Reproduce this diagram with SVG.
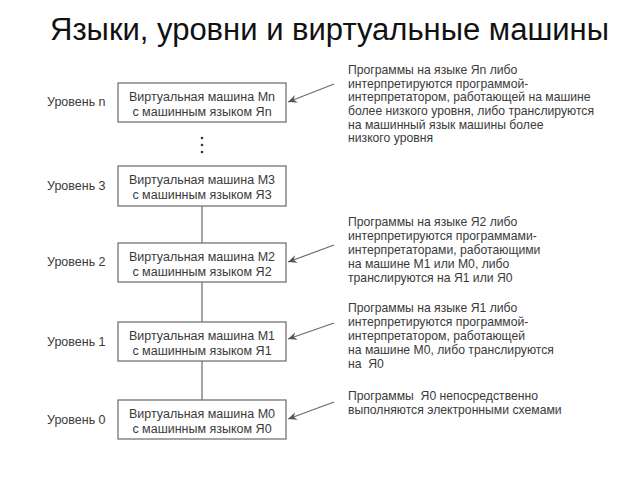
<svg xmlns="http://www.w3.org/2000/svg" width="640" height="480" viewBox="0 0 640 480">
<style>
text{font-family:"Liberation Sans",Arial,sans-serif;fill:#3a3a3a}
.t{font-size:31px;fill:#111}
.l{font-size:12.5px}
.b{font-size:12.5px;text-anchor:middle}
.n{font-size:12.2px}
rect{fill:#fff;stroke:#6a6a6a;stroke-width:1.2}
.c line{stroke:#6a6a6a;stroke-width:1.2}
.a{marker-end:url(#ah)}
</style>
<defs>
<marker id="ah" markerWidth="10" markerHeight="8" refX="9" refY="4" orient="auto" markerUnits="userSpaceOnUse">
<path d="M0,0 L9,4 L0,8 L3,4 Z" fill="#555"/>
</marker>
</defs>
<rect x="0" y="0" width="640" height="480" style="fill:#fff;stroke:none"/>
<text class="t" x="50" y="40">Языки, уровни и виртуальные машины</text>
<g class="c">
<line x1="202" y1="206" x2="202" y2="243"/>
<line x1="202" y1="282" x2="202" y2="322"/>
<line x1="202" y1="361" x2="202" y2="400"/>
<line class="a" x1="334" y1="84" x2="288" y2="102"/>
<line class="a" x1="334" y1="245" x2="288" y2="262"/>
<line class="a" x1="334" y1="323" x2="288" y2="339"/>
<line class="a" x1="334" y1="402" x2="288" y2="419"/>
</g>
<g id="dots" fill="#333">
<circle cx="202" cy="138" r="1.3"/>
<circle cx="202" cy="145" r="1.3"/>
<circle cx="202" cy="152" r="1.3"/>
</g>
<g id="level-n">
<text class="l" x="47" y="106">Уровень n</text>
<rect x="118" y="83" width="168" height="39"/>
<text class="b" x="202" y="101">Виртуальная машина Mn</text>
<text class="b" x="202" y="116">с машинным языком Яn</text>
</g>
<g id="level-3">
<text class="l" x="47" y="190">Уровень 3</text>
<rect x="118" y="166" width="168" height="40"/>
<text class="b" x="202" y="184">Виртуальная машина M3</text>
<text class="b" x="202" y="199">с машинным языком Я3</text>
</g>
<g id="level-2">
<text class="l" x="47" y="266">Уровень 2</text>
<rect x="118" y="243" width="168" height="39"/>
<text class="b" x="202" y="261">Виртуальная машина M2</text>
<text class="b" x="202" y="276">с машинным языком Я2</text>
</g>
<g id="level-1">
<text class="l" x="47" y="346">Уровень 1</text>
<rect x="118" y="322" width="168" height="39"/>
<text class="b" x="202" y="340">Виртуальная машина M1</text>
<text class="b" x="202" y="355">с машинным языком Я1</text>
</g>
<g id="level-0">
<text class="l" x="47" y="424">Уровень 0</text>
<rect x="118" y="400" width="168" height="39"/>
<text class="b" x="202" y="418">Виртуальная машина M0</text>
<text class="b" x="202" y="433">с машинным языком Я0</text>
</g>
<g id="note-n">
<text class="n" x="348" y="74">Программы на языке Яn либо</text>
<text class="n" x="348" y="88">интерпретируются программой-</text>
<text class="n" x="348" y="101">интерпретатором, работающей на машине</text>
<text class="n" x="348" y="115">более низкого уровня, либо транслируются</text>
<text class="n" x="348" y="129">на машинный язык машины более</text>
<text class="n" x="348" y="142">низкого уровня</text>
</g>
<g id="note-2">
<text class="n" x="348" y="226">Программы на языке Я2 либо</text>
<text class="n" x="348" y="240">интерпретируются программами-</text>
<text class="n" x="348" y="254">интерпретаторами, работающими</text>
<text class="n" x="348" y="268">на машине M1 или M0, либо</text>
<text class="n" x="348" y="282">транслируются на Я1 или Я0</text>
</g>
<g id="note-1">
<text class="n" x="348" y="312">Программы на языке Я1 либо</text>
<text class="n" x="348" y="326">интерпретируются программой-</text>
<text class="n" x="348" y="340">интерпретатором, работающей</text>
<text class="n" x="348" y="354">на машине M0, либо транслируются</text>
<text class="n" x="348" y="368" xml:space="preserve">на  Я0</text>
</g>
<g id="note-0">
<text class="n" x="348" y="400" xml:space="preserve">Программы  Я0 непосредственно</text>
<text class="n" x="348" y="414">выполняются электронными схемами</text>
</g>
</svg>
